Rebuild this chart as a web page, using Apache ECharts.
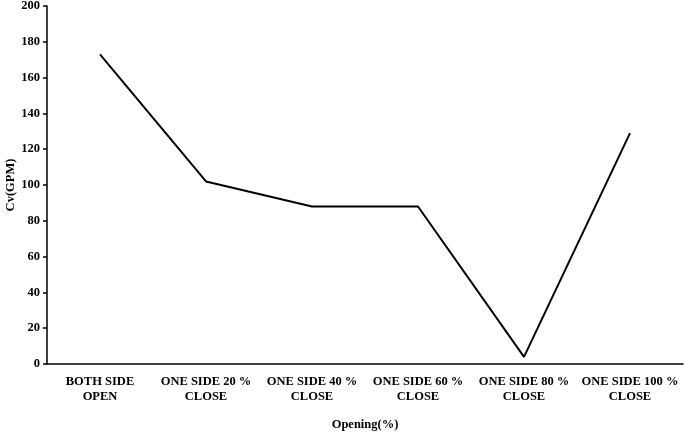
<!DOCTYPE html>
<html>
<head>
<meta charset="utf-8">
<script src="https://cdn.jsdelivr.net/npm/echarts@6/dist/echarts.min.js"></script>
<style>
  html, body { margin: 0; padding: 0; background: #fff; }
  #chart { width: 685px; height: 434px; }
</style>
</head>
<body>
<div id="chart"></div>
<script>
const categories = [
  'BOTH SIDE\nOPEN',
  'ONE SIDE 20 %\nCLOSE',
  'ONE SIDE 40 %\nCLOSE',
  'ONE SIDE 60 %\nCLOSE',
  'ONE SIDE 80 %\nCLOSE',
  'ONE SIDE 100 %\nCLOSE'
]
const cvValues = [173, 102, 88, 88, 4, 129]

const font = 'Liberation Serif, Times New Roman, serif'
const chart = echarts.init(document.getElementById('chart'))
const option = {
  backgroundColor: '#fff',
  animation: false,
  grid: {
    left: 47,
    right: 2,
    top: 6,
    bottom: 70,
    outerBoundsMode: 'none',
    containLabel: false
  },
  xAxis: {
    type: 'category',
    data: categories,
    boundaryGap: true,
    name: 'Opening(%)',
    nameLocation: 'middle',
    nameGap: 54,
    nameMoveOverlap: false,
    nameTextStyle: {
      fontFamily: font,
      fontWeight: 'bold',
      fontSize: 12.5,
      color: '#000'
    },
    axisLine: {
      lineStyle: { color: '#000', width: 1.5 }
    },
    axisTick: {
      alignWithLabel: true,
      length: 4,
      lineStyle: { color: '#000', width: 1.5 }
    },
    axisLabel: {
      interval: 0,
      margin: 10,
      fontFamily: font,
      fontWeight: 'bold',
      fontSize: 12.5,
      lineHeight: 15,
      color: '#000'
    }
  },
  yAxis: {
    type: 'value',
    min: 0,
    max: 200,
    interval: 20,
    name: 'Cv(GPM)',
    nameLocation: 'middle',
    nameGap: 30,
    nameMoveOverlap: false,
    nameTextStyle: {
      fontFamily: font,
      fontWeight: 'bold',
      fontSize: 12.5,
      color: '#000'
    },
    splitLine: { show: false },
    axisLine: {
      show: true,
      lineStyle: { color: '#000', width: 1.5 }
    },
    axisTick: {
      show: true,
      length: 4,
      lineStyle: { color: '#000', width: 1.5 }
    },
    axisLabel: {
      margin: 7,
      fontFamily: font,
      fontWeight: 'bold',
      fontSize: 12.5,
      color: '#000'
    }
  },
  series: [
    {
      type: 'line',
      data: cvValues,
      showSymbol: false,
      symbol: 'none',
      lineStyle: { color: '#000', width: 2 }
    }
  ]
}
chart.setOption(option)
</script>
</body>
</html>
